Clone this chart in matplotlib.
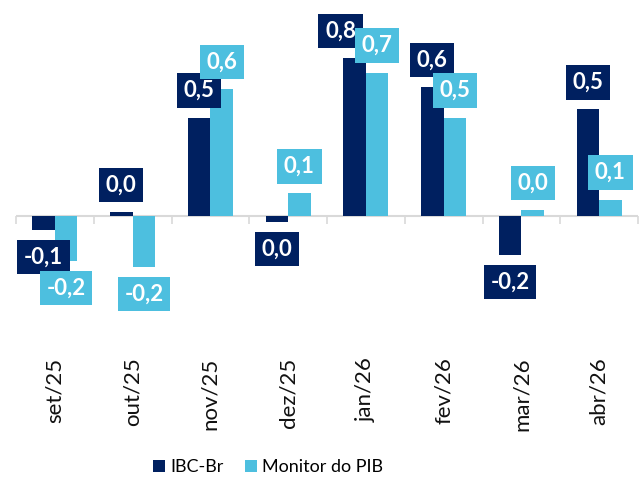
import numpy as np
import matplotlib.pyplot as plt

plt.rcParams['font.family'] = ['Lato', 'DejaVu Sans']

# Data
months = ["set/25", "out/25", "nov/25", "dez/25", "jan/26", "fev/26", "mar/26", "abr/26"]
ibc_br = [-0.07, 0.02, 0.48, -0.03, 0.77, 0.63, -0.19, 0.52]
monitor_pib = [-0.22, -0.25, 0.62, 0.11, 0.70, 0.48, 0.03, 0.08]

navy = "#002060"
cyan = "#4dbfdf"
grey = "#d9d9d9"

fig = plt.figure(figsize=(6.44, 4.8), dpi=100)
ax = fig.add_axes([16 / 644, 135 / 480, 622 / 644, 340 / 480])

x = np.arange(len(months))
w = 0.29
b1 = ax.bar(x - w / 2, ibc_br, w, color=navy, label="IBC-Br")
b2 = ax.bar(x + w / 2, monitor_pib, w, color=cyan, label="Monitor do PIB")

ymin, ymax = -0.63, 1.03
ax.set_xlim(-0.5, len(months) - 0.5)
ax.set_ylim(ymin, ymax)

# labels in coloured boxes
def fmt(v):
    return f"{round(v, 1) + 0.0:.1f}".replace(".", ",")

for bars, vals, col in [(b1, ibc_br, navy), (b2, monitor_pib, cyan)]:
    for i, (bar, v) in enumerate(zip(bars, vals)):
        dx = 0
        if col == navy and months[i] == "jan/26":
            dx = -14
        dy = 27 if v >= 0 else -27
        ax.annotate(fmt(v), (bar.get_x() + bar.get_width() / 2, v),
                    xytext=(dx, dy), textcoords="offset pixels",
                    ha="center", va="center", color="white",
                    fontsize=16, fontweight="bold",
                    bbox=dict(boxstyle="square,pad=0.3", fc=col, ec="none"))

for s in ax.spines.values():
    s.set_visible(False)
ax.set_yticks([])
ax.axhline(0, color=grey, lw=1.5, zorder=0.5)

# category boundary ticks on the zero line
sec = ax.secondary_xaxis((0 - ymin) / (ymax - ymin))
sec.spines["bottom"].set_visible(False)
sec.spines["top"].set_visible(False)
sec.set_xticks(np.arange(len(months) + 1) - 0.5, labels=[])
sec.xaxis.set_ticks_position("bottom")
sec.tick_params(axis="x", direction="out", length=5.5, width=1.2, color=grey)

ax.set_xticks(x, labels=months, rotation=90)
ax.tick_params(axis="x", length=0, pad=9, labelsize=16, labelcolor="#111111")

fig.legend(loc="center", bbox_to_anchor=(268 / 644, 13 / 480), ncol=2, frameon=False,
           fontsize=13, handlelength=0.65, handleheight=0.65, handletextpad=0.3,
           columnspacing=1.2)

fig.savefig("out.png", dpi=100)
